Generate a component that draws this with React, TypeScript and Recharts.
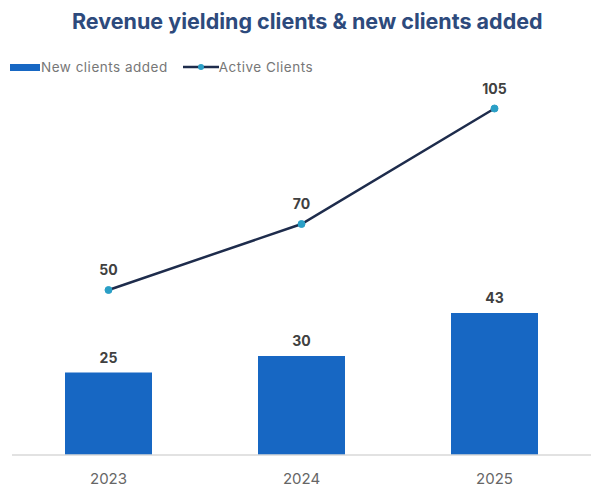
import React from 'react'
import {
  ComposedChart,
  Bar,
  Line,
  XAxis,
  YAxis,
  LabelList
} from 'recharts'

const years = ['2023', '2024', '2025']
const newClientsAdded = [25, 30, 43]
const activeClients = [50, 70, 105]

const BAR_COLOR = '#1767c3'
const LINE_COLOR = '#1e2c4c'
const DOT_COLOR = '#2a9fc6'
const FONT = 'Inter, "Open Sans", sans-serif'

const data = years.map((year, i) => ({
  year,
  newClients: newClientsAdded[i],
  active: activeClients[i]
}))

// legend: wide swatch for the bars, line-with-dot for the series
function ChartLegend() {
  return (
    <div
      style={{
        position: 'absolute',
        top: 59,
        left: 10,
        display: 'flex',
        alignItems: 'center',
        fontFamily: FONT,
        fontSize: 13.5,
        letterSpacing: 0.5,
        color: '#777'
      }}
    >
      <span style={{ display: 'inline-block', width: 30, height: 7, background: BAR_COLOR, marginRight: 1 }} />
      <span style={{ marginRight: 15 }}>New clients added</span>
      <svg width={36} height={8}>
        <line x1={0} y1={4} x2={36} y2={4} stroke={LINE_COLOR} strokeWidth={2.5} />
        <circle cx={18} cy={4} r={3} fill={DOT_COLOR} />
      </svg>
      <span>Active Clients</span>
    </div>
  )
}

export default function App() {
  return (
    <div style={{ position: 'absolute', left: 0, top: 0, width: 592, height: 495, background: '#fff' }}>
      <div
        style={{
          position: 'absolute',
          top: 8,
          left: 72,
          whiteSpace: 'nowrap',
          fontFamily: FONT,
          fontWeight: 700,
          fontSize: 21.5,
          color: '#2d4a7c'
        }}
      >
        Revenue yielding clients &amp; new clients added
      </div>
      <ChartLegend />
      <div style={{ position: 'absolute', left: 0, top: 0 }}>
        <ComposedChart
          width={592}
          height={495}
          data={data}
          margin={{ top: 59, right: 1, bottom: 0, left: 12 }}
        >
          <XAxis
            dataKey="year"
            height={40}
            tickLine={false}
            axisLine={{ stroke: '#d9d9d9', strokeWidth: 1.5 }}
            tick={{ fontSize: 15, fill: '#666', fontFamily: FONT }}
            tickMargin={12}
          />
          <YAxis hide domain={[0, 120]} />
          <Bar dataKey="newClients" fill={BAR_COLOR} barSize={87} isAnimationActive={false}>
            <LabelList
              dataKey="newClients"
              position="top"
              offset={10}
              style={{ fontSize: 14, fontWeight: 700, fill: '#404040', fontFamily: FONT }}
            />
          </Bar>
          <Line
            type="linear"
            dataKey="active"
            stroke={LINE_COLOR}
            strokeWidth={2.5}
            dot={{ r: 3.5, fill: DOT_COLOR, stroke: DOT_COLOR, strokeWidth: 1 }}
            isAnimationActive={false}
          >
            <LabelList
              dataKey="active"
              position="top"
              offset={15}
              style={{ fontSize: 14, fontWeight: 700, fill: '#404040', fontFamily: FONT }}
            />
          </Line>
        </ComposedChart>
      </div>
    </div>
  )
}
